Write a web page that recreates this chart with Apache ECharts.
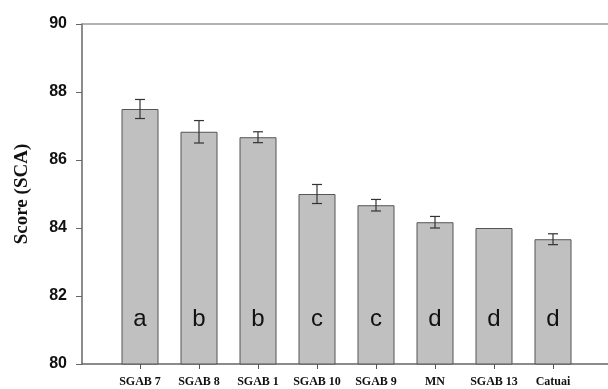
<!DOCTYPE html>
<html>
<head>
<meta charset="utf-8">
<script src="https://cdn.jsdelivr.net/npm/echarts@6/dist/echarts.min.js"></script>
<style>
html,body{margin:0;padding:0;background:#fff;}
#chart{width:608px;height:389px;}
</style>
</head>
<body>
<div id="chart"></div>
<script>
var categories = ['SGAB 7', 'SGAB 8', 'SGAB 1', 'SGAB 10', 'SGAB 9', 'MN', 'SGAB 13', 'Catuai'];
var scores = [87.5, 86.83, 86.67, 85.0, 84.67, 84.17, 84.0, 83.67];
var errors = [0.28, 0.33, 0.16, 0.28, 0.17, 0.17, 0, 0.16];
var groups = ['a', 'b', 'b', 'c', 'c', 'd', 'd', 'd'];
var yTicks = { min: 80, max: 90, step: 2 };

var errData = categories.map(function (c, i) {
  return [i, scores[i] - errors[i], scores[i] + errors[i]];
});

var chart = echarts.init(document.getElementById('chart'), null, { renderer: 'canvas' });
chart.setOption({
  animation: false,
  backgroundColor: '#fff',
  grid: [
    { left: 82, right: 0, top: 24, bottom: 25 },
    { left: 110.5, right: 25.5, top: 24, bottom: 25 }
  ],
  xAxis: [
    { gridIndex: 0, type: 'value', min: 0, max: 1, position: 'bottom',
      axisLine: { show: true, lineStyle: { color: '#666', width: 1.5 } },
      axisTick: { show: false }, axisLabel: { show: false }, splitLine: { show: false } },
    { gridIndex: 0, type: 'value', min: 0, max: 1, position: 'top',
      axisLine: { show: true, lineStyle: { color: '#999', width: 1.5 } },
      axisTick: { show: false }, axisLabel: { show: false }, splitLine: { show: false } },
    { gridIndex: 1, type: 'category', data: categories, boundaryGap: true,
      axisLine: { show: false },
      axisTick: { show: true, alignWithLabel: true, length: 5, lineStyle: { color: '#555' } },
      axisLabel: { interval: 0, margin: 12, fontFamily: 'Liberation Serif, Times New Roman, serif', fontWeight: 'bold', fontSize: 12, color: '#111' } }
  ],
  yAxis: [
    { gridIndex: 0, type: 'value', min: yTicks.min, max: yTicks.max, interval: yTicks.step,
      name: 'Score (SCA)', nameLocation: 'middle', nameGap: 50,
      nameTextStyle: { fontFamily: 'Liberation Serif, Times New Roman, serif', fontWeight: 'bold', fontSize: 19, color: '#111' },
      axisLine: { show: true, lineStyle: { color: '#666', width: 1.5 } },
      axisTick: { show: true, inside: false, length: 6, lineStyle: { color: '#666' } },
      axisLabel: { margin: 15, fontFamily: 'Liberation Sans, Arial, sans-serif', fontWeight: 'bold', fontSize: 16, color: '#111' },
      splitLine: { show: false } },
    { gridIndex: 1, type: 'value', min: yTicks.min, max: yTicks.max, show: false, splitLine: { show: false } }
  ],
  series: [
    { type: 'bar', xAxisIndex: 2, yAxisIndex: 1, data: scores, barWidth: 37,
      itemStyle: { color: '#c0c0c0', borderColor: '#555', borderWidth: 1 },
      label: { show: true, position: 'insideBottom', distance: 33,
        formatter: function (p) { return groups[p.dataIndex]; },
        fontFamily: 'Liberation Sans, Arial, sans-serif', fontSize: 24, color: '#111' } },
    { type: 'custom', xAxisIndex: 2, yAxisIndex: 1, data: errData, z: 10,
      renderItem: function (params, api) {
        var x = api.value(0);
        var lo = api.coord([x, api.value(1)]);
        var hi = api.coord([x, api.value(2)]);
        if (api.value(2) - api.value(1) <= 0) return { type: 'group', children: [] };
        var hw = 5;
        var st = { stroke: '#333', lineWidth: 1.2 };
        return { type: 'group', children: [
          { type: 'line', shape: { x1: lo[0], y1: lo[1], x2: hi[0], y2: hi[1] }, style: st },
          { type: 'line', shape: { x1: hi[0] - hw, y1: hi[1], x2: hi[0] + hw, y2: hi[1] }, style: st },
          { type: 'line', shape: { x1: lo[0] - hw, y1: lo[1], x2: lo[0] + hw, y2: lo[1] }, style: st }
        ] };
      } }
  ]
});
</script>
</body>
</html>
